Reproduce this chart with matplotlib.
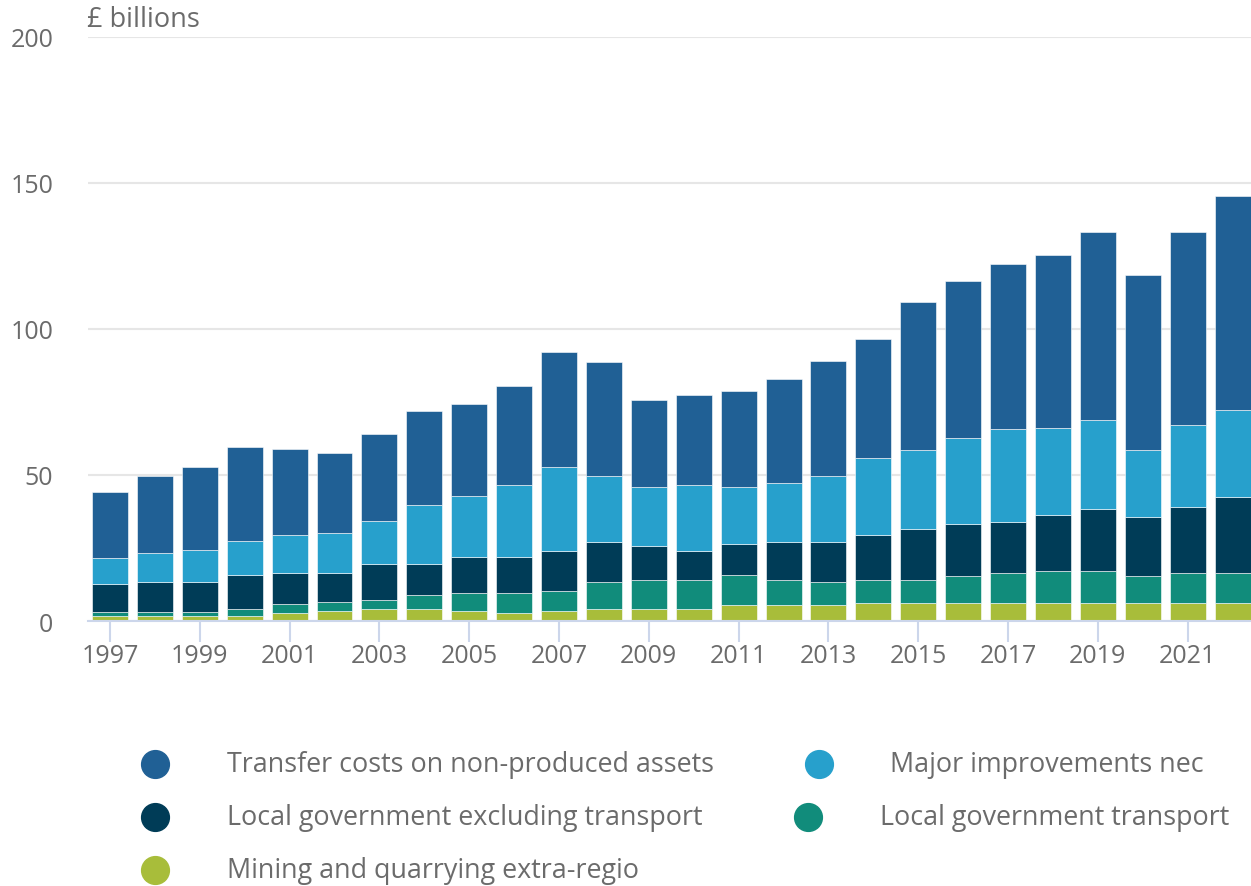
import matplotlib
matplotlib.use("Agg")
import matplotlib.pyplot as plt
from matplotlib.lines import Line2D

plt.rcParams['font.family'] = ['Open Sans', 'DejaVu Sans']

# Datos
years = list(range(1997, 2023))
mining = [1.8, 1.8, 1.8, 1.8, 2.6, 3.3, 4.1, 4.1, 3.3, 2.6, 3.3, 4.1, 4.1,
          4.2, 5.6, 5.6, 5.6, 6.3, 6.3, 6.3, 6.3, 6.3, 6.3, 6.3, 6.3, 6.3]
lg_transport = [1.4, 1.4, 1.4, 2.3, 3.3, 3.1, 3.1, 4.7, 6.2, 6.9, 7.0, 9.3, 10.0,
                10.0, 10.0, 8.6, 7.8, 7.9, 7.7, 9.1, 10.1, 10.7, 10.7, 9.1, 10.1, 10.1]
lg_excl = [9.4, 10.1, 10.1, 11.5, 10.4, 9.9, 12.3, 10.7, 12.3, 12.3, 13.8, 13.8, 11.6,
           9.9, 10.9, 13.0, 13.8, 15.4, 17.6, 17.8, 17.6, 19.2, 21.5, 20.1, 22.8, 25.9]
major_impr = [9.1, 10.0, 10.9, 11.7, 13.2, 14.0, 14.6, 20.1, 20.9, 24.7, 28.5, 22.4, 20.1,
              22.5, 19.4, 20.2, 22.5, 26.3, 26.9, 29.4, 31.6, 30.0, 30.2, 23.0, 27.9, 30.1]
transfer = [22.4, 26.3, 28.4, 32.3, 29.3, 27.1, 30.1, 32.3, 31.5, 34.0, 39.6, 39.2, 29.9,
            30.7, 33.0, 35.4, 39.3, 40.7, 50.7, 53.7, 56.7, 59.2, 64.5, 59.9, 66.1, 73.1]

series = [mining, lg_transport, lg_excl, major_impr, transfer]
names = ["Mining and quarrying extra-regio", "Local government transport",
         "Local government excluding transport", "Major improvements nec",
         "Transfer costs on non-produced assets"]
colors = ["#a8bd3a", "#118c7b", "#003c57", "#27a0cc", "#206095"]

fig = plt.figure(figsize=(12.51, 8.87), dpi=100)
ax = fig.add_axes([88 / 1251, 265 / 887, 1163 / 1251, 584 / 887])

bottom = [0] * len(years)
for vals, c in zip(series, colors):
    ax.bar(years, vals, bottom=bottom, width=0.8, color=c, edgecolor="#ffffff", linewidth=0.4, zorder=3)
    bottom = [b + v for b, v in zip(bottom, vals)]

ax.set_xlim(1996.51, 2022.41)
ax.set_ylim(0, 200)
ax.set_yticks([0, 50, 100, 150, 200])
ax.set_xticks(list(range(1997, 2022, 2)))

ax.grid(axis="y", color="#e6e6e6", linewidth=1.5, zorder=0)
for s in ["top", "right", "left"]:
    ax.spines[s].set_visible(False)
ax.spines["bottom"].set_color("#ccd6eb")
ax.spines["bottom"].set_linewidth(1.5)
ax.spines["bottom"].set_zorder(4)

ax.tick_params(axis="y", length=0, pad=25, labelsize=18, labelcolor="#6b6b6b")
ax.tick_params(axis="x", length=15, width=1.5, color="#ccd6eb", pad=1, labelsize=18, labelcolor="#6b6b6b")

fig.text(87 / 1251, 1 - 20 / 887, "£ billions", fontsize=19.5, color="#6b6b6b", va="center", ha="left")

# Leyenda
legend_items = [
    (names[4], colors[4], 155, 227, 765),
    (names[3], colors[3], 819, 890, 765),
    (names[2], colors[2], 155, 227, 818),
    (names[1], colors[1], 808, 880, 818),
    (names[0], colors[0], 155, 227, 871),
]
for label, c, cx, tx, y in legend_items:
    fig.add_artist(Line2D([cx / 1251], [1 - y / 887], marker="o", markersize=20,
                          color=c, linestyle="none", transform=fig.transFigure))
    fig.text(tx / 1251, 1 - y / 887, label, fontsize=19.4, color="#6b6b6b", va="center", ha="left")

fig.savefig("out.png", dpi=100)
